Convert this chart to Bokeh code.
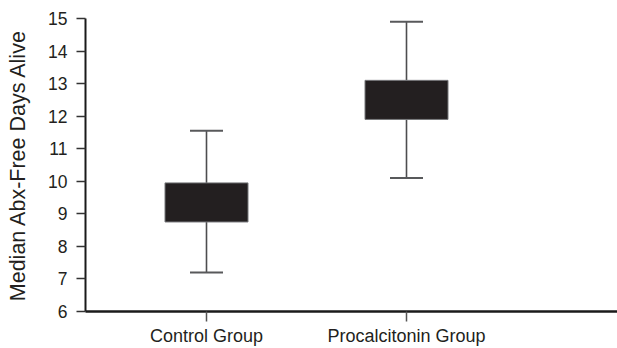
from bokeh.plotting import figure
from bokeh.models import ColumnDataSource, FixedTicker, Range1d
from bokeh.embed import file_html
from bokeh.resources import INLINE

# Data
groups = ["Control Group", "Procalcitonin Group"]
whisker_low = [7.2, 10.1]
box_low = [8.75, 11.9]
box_high = [9.95, 13.1]
whisker_high = [11.55, 14.9]
y_ticks = [6, 7, 8, 9, 10, 11, 12, 13, 14, 15]

xpos = [i + 1 for i in range(len(groups))]
BOX_W = 0.415
CAP_W = 0.165

src = ColumnDataSource(dict(
    x=xpos,
    wl=whisker_low, bl=box_low, bh=box_high, wh=whisker_high,
    cl=[x - CAP_W / 2 for x in xpos], cr=[x + CAP_W / 2 for x in xpos],
))

TEXT = "#231f20"
FONT = "Liberation Sans"

p = figure(width=617, height=348, output_backend="svg", toolbar_location=None,
           x_range=Range1d(0.395, 3.055), y_range=Range1d(6, 15),
           min_border_left=85, min_border_right=0, min_border_top=18,
           min_border_bottom=35)
p.outline_line_color = None
p.xgrid.visible = False
p.ygrid.visible = False
p.background_fill_color = "white"
p.border_fill_color = "white"

# whiskers
p.segment(x0="x", y0="wl", x1="x", y1="bl", source=src, line_color="#4d4d4f", line_width=1.6)
p.segment(x0="x", y0="bh", x1="x", y1="wh", source=src, line_color="#4d4d4f", line_width=1.6)
# caps
p.segment(x0="cl", y0="wl", x1="cr", y1="wl", source=src, line_color="#58595b", line_width=2)
p.segment(x0="cl", y0="wh", x1="cr", y1="wh", source=src, line_color="#58595b", line_width=2)
# boxes
p.vbar(x="x", bottom="bl", top="bh", width=BOX_W, source=src,
       fill_color=TEXT, line_color="#77787b", line_width=1)

# y axis
ya = p.yaxis[0]
ya.ticker = FixedTicker(ticks=y_ticks)
ya.minor_tick_line_color = None
ya.major_tick_out = 9
ya.major_tick_in = 0
ya.major_tick_line_color = "#333333"
ya.major_tick_line_width = 1.5
ya.axis_line_color = "#1a1a1a"
ya.axis_line_width = 2
ya.major_label_standoff = 9
ya.major_label_text_font = FONT
ya.major_label_text_font_size = "17.5px"
ya.major_label_text_color = TEXT
ya.axis_label = "Median Abx-Free Days Alive"
ya.axis_label_text_font = FONT
ya.axis_label_text_font_size = "21.5px"
ya.axis_label_text_font_style = "normal"
ya.axis_label_text_color = TEXT
ya.axis_label_standoff = 15

# x axis
xa = p.xaxis[0]
xa.ticker = FixedTicker(ticks=xpos)
xa.major_label_overrides = {x: g for x, g in zip(xpos, groups)}
xa.minor_tick_line_color = None
xa.major_tick_out = 10
xa.major_tick_in = 0
xa.major_tick_line_color = "#555555"
xa.major_tick_line_width = 1.5
xa.axis_line_color = "#1a1a1a"
xa.axis_line_width = 2.5
xa.major_label_standoff = 4
xa.major_label_text_font = FONT
xa.major_label_text_font_size = "18px"
xa.major_label_text_color = TEXT

open("out.html", "w").write(file_html(p, INLINE))
